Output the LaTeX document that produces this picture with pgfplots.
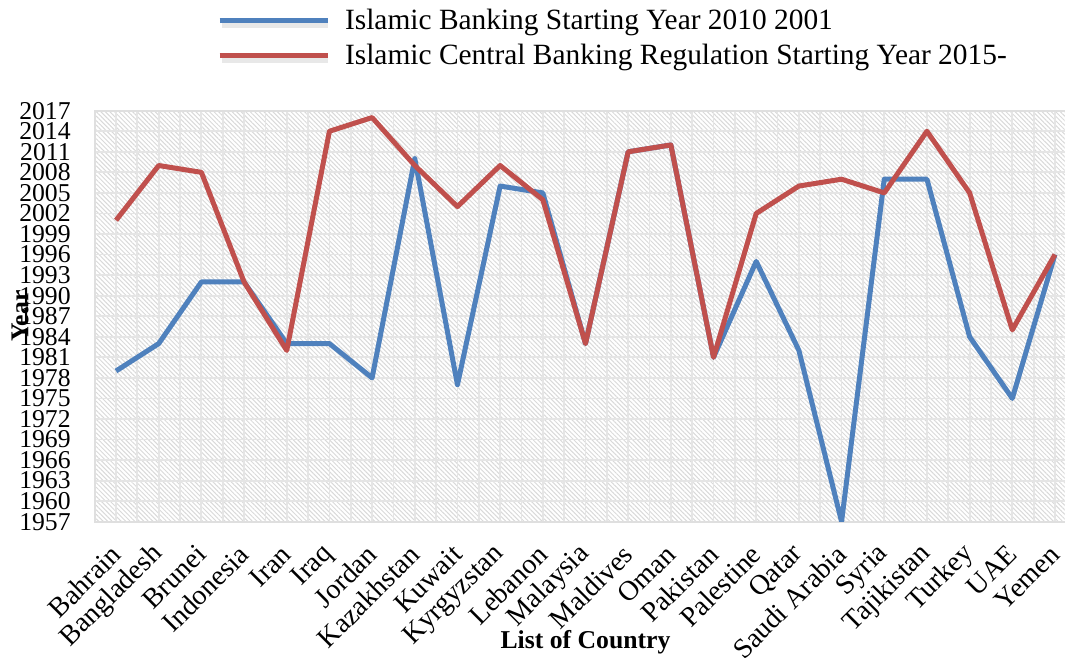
\documentclass[border=0pt]{standalone}
\usepackage{pgfplots}
\pgfplotsset{compat=1.18}
\usepackage{fontspec}
\setmainfont{Liberation Serif}
\usetikzlibrary{patterns.meta}

\definecolor{bankblue}{HTML}{4F81BD}
\definecolor{bankred}{HTML}{C0504D}
\newcommand\chartfont{\fontsize{12.85}{15}\selectfont}
\newcommand\labelfont{\fontsize{14}{16}\selectfont}
\newcommand\legendfont{\fontsize{14.7}{17}\selectfont}

\begin{document}
\begin{tikzpicture}
\begin{axis}[
    scale only axis,
    width=490.8pt, height=205.5pt,
    xmin=-0.5, xmax=22.5,
    ymin=1957, ymax=2017,
    ytick={1957,1960,...,2017},
    xtick={0,...,22},
    xticklabels={Bahrain, Bangladesh, Brunei, Indonesia, Iran, Iraq, Jordan,
        Kazakhstan, Kuwait, Kyrgyzstan, Lebanon, Malaysia, Maldives, Oman,
        Pakistan, Palestine, Qatar, Saudi Arabia, Syria, Tajikistan, Turkey,
        UAE, Yemen},
    minor x tick num=1,
    xmajorgrids, xminorgrids, ymajorgrids,
    major grid style={gray!20, line width=0.9pt},
    minor grid style={gray!20, line width=0.9pt},
    major tick length=0pt, minor tick length=0pt,
    axis line style={gray!25, line width=0.9pt},
    axis background/.style={pattern={Lines[angle=-45, distance=1.6pt, line width=0.5pt]}, pattern color=gray!30},
    /pgf/number format/1000 sep={},
    /pgf/number format/assume math mode=true,
    yticklabel style={font=\chartfont, anchor=east, inner sep=0pt, xshift=-11.8pt},
    xticklabel style={font=\labelfont, inner sep=0pt, xshift=0pt, yshift=-14pt, rotate=45, anchor=east},
    every axis x label/.style={at={(axis description cs:0.5,0)}, yshift=-60.5pt, anchor=center, font=\chartfont\bfseries},
    every axis y label/.style={at={(axis description cs:0,0.5)}, xshift=-37.3pt, rotate=90, anchor=center, font=\chartfont\bfseries},
    xlabel={List of Country},
    ylabel={Year},
    legend cell align=left,
    legend style={draw=none, fill=none, inner sep=0pt, outer sep=0pt,
        at={(axis description cs:0,1)}, anchor=west, xshift=61.2pt, yshift=36.2pt,
        row sep=5.8pt, nodes={inner sep=0pt}, font=\legendfont},
    legend image code/.code={
        \draw[gray!30, line width=2.5pt, opacity=0.6] (1pt,-2.2pt) -- (54pt,-2.2pt);
        \draw[#1, line width=2.5pt] (0pt,0pt) -- (54pt,0pt);
    },
]
% Islamic banking starting year
\addplot[bankblue, line width=2.5pt, line join=round] coordinates {
    (0,1979) (1,1983) (2,1992) (3,1992) (4,1983) (5,1983) (6,1978) (7,2010)
    (8,1977) (9,2006) (10,2005) (11,1983) (12,2011) (13,2012) (14,1981)
    (15,1995) (16,1982) (17,1957) (18,2007) (19,2007) (20,1984) (21,1975)
    (22,1996)};
% Islamic central banking regulation starting year
\addplot[bankred, line width=2.5pt, line join=round] coordinates {
    (0,2001) (1,2009) (2,2008) (3,1992) (4,1982) (5,2014) (6,2016) (7,2009)
    (8,2003) (9,2009) (10,2004) (11,1983) (12,2011) (13,2012) (14,1981)
    (15,2002) (16,2006) (17,2007) (18,2005) (19,2014) (20,2005) (21,1985)
    (22,1996)};
\legend{\hspace*{7.5pt}Islamic Banking Starting Year 2010 2001, \hspace*{7.5pt}Islamic Central Banking Regulation Starting Year 2015-}
\end{axis}
\pgfresetboundingbox
\path[use as bounding box] ([xshift=-47.35pt,yshift=-68.15pt]current axis.south west) rectangle ++(532.5pt,329pt);
\end{tikzpicture}
\end{document}
